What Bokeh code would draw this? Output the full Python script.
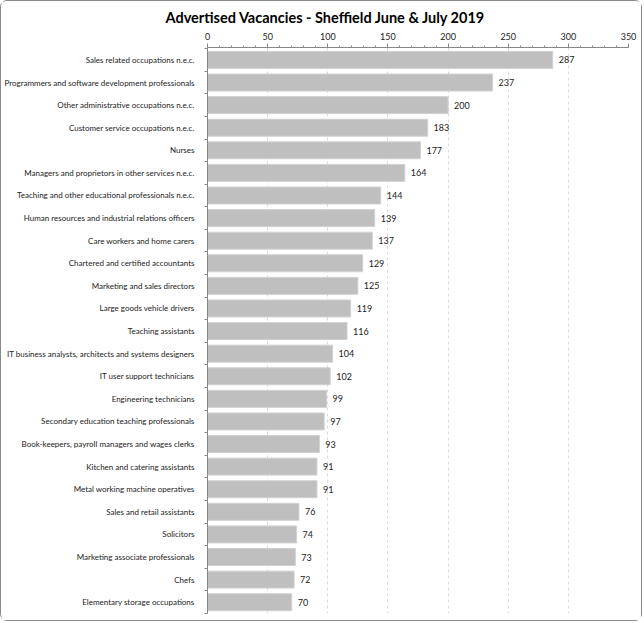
from bokeh.plotting import figure
from bokeh.models import Range1d, FixedTicker, ColumnDataSource
from bokeh.core.properties import value
from bokeh.embed import file_html
from bokeh.resources import INLINE

categories = [
    "Sales related occupations n.e.c.",
    "Programmers and software development professionals",
    "Other administrative occupations n.e.c.",
    "Customer service occupations n.e.c.",
    "Nurses",
    "Managers and proprietors in other services n.e.c.",
    "Teaching and other educational professionals n.e.c.",
    "Human resources and industrial relations officers",
    "Care workers and home carers",
    "Chartered and certified accountants",
    "Marketing and sales directors",
    "Large goods vehicle drivers",
    "Teaching assistants",
    "IT business analysts, architects and systems designers",
    "IT user support technicians",
    "Engineering technicians",
    "Secondary education teaching professionals",
    "Book-keepers, payroll managers and wages clerks",
    "Kitchen and catering assistants",
    "Metal working machine operatives",
    "Sales and retail assistants",
    "Solicitors",
    "Marketing associate professionals",
    "Chefs",
    "Elementary storage occupations",
]
vacancies = [287, 237, 200, 183, 177, 164, 144, 139, 137, 129, 125, 119, 116,
             104, 102, 99, 97, 93, 91, 91, 76, 74, 73, 72, 70]
x_ticks = [0, 50, 100, 150, 200, 250, 300, 350]

FONT = "Lato"
n = len(categories)
pos = list(range(n))

src = ColumnDataSource(dict(y=pos, v=vacancies, lab=[str(v) for v in vacancies]))

p = figure(width=642, height=621, output_backend="svg", toolbar_location=None,
           x_range=Range1d(0, 350), y_range=Range1d(n - 0.5, -0.55),
           x_axis_location="above", min_border_left=205, min_border_right=15,
           min_border_bottom=9, min_border_top=46)

p.title.text = "Advertised Vacancies - Sheffield June & July 2019"
p.title.text_font = FONT
p.title.text_font_size = "14.5px"
p.title.text_font_style = "bold"
p.title.text_color = "#000000"
p.title.align = "left"
p.title.offset = -42
p.title.standoff = 7

p.hbar(y="y", right="v", left=0, height=0.75, source=src,
       fill_color="#BFBFBF", line_color="#D0D0D0", line_width=1)
p.text(x="v", y="y", text="lab", source=src, x_offset=6,
       text_baseline="middle", text_align="left",
       text_font=value(FONT), text_font_size="9px", text_color="#222222")

xa = p.xaxis[0]
xa.ticker = FixedTicker(ticks=x_ticks, minor_ticks=list(range(0, 351, 10)))
xa.axis_line_color = "#868686"
xa.major_tick_line_color = "#868686"
xa.minor_tick_line_color = "#868686"
xa.major_tick_out = 4
xa.major_tick_in = 0
xa.minor_tick_out = 2
xa.minor_tick_in = 0
xa.major_label_text_font = FONT
xa.major_label_text_font_size = "9px"
xa.major_label_text_color = "#222222"
xa.major_label_standoff = 4

ya = p.yaxis[0]
ya.ticker = FixedTicker(ticks=pos, minor_ticks=[i - 0.5 for i in range(n + 1)])
ya.major_label_overrides = {i: c for i, c in zip(pos, categories)}
ya.axis_line_color = "#868686"
ya.major_tick_line_color = None
ya.minor_tick_line_color = "#868686"
ya.minor_tick_out = 3
ya.minor_tick_in = 0
ya.major_label_text_font = FONT
ya.major_label_text_font_size = "8px"
ya.major_label_text_color = "#222222"
ya.major_label_standoff = 7

p.xgrid.ticker = FixedTicker(ticks=x_ticks[1:])
p.xgrid.grid_line_color = "#D9D9D9"
p.xgrid.grid_line_dash = "3 3"
p.ygrid.grid_line_color = None
p.outline_line_color = None
p.background_fill_color = "white"
p.border_fill_color = "white"
p.styles = {"border": "1px solid #8a8a8a", "border-radius": "7px"}

open("out.html", "w").write(file_html(p, INLINE))
